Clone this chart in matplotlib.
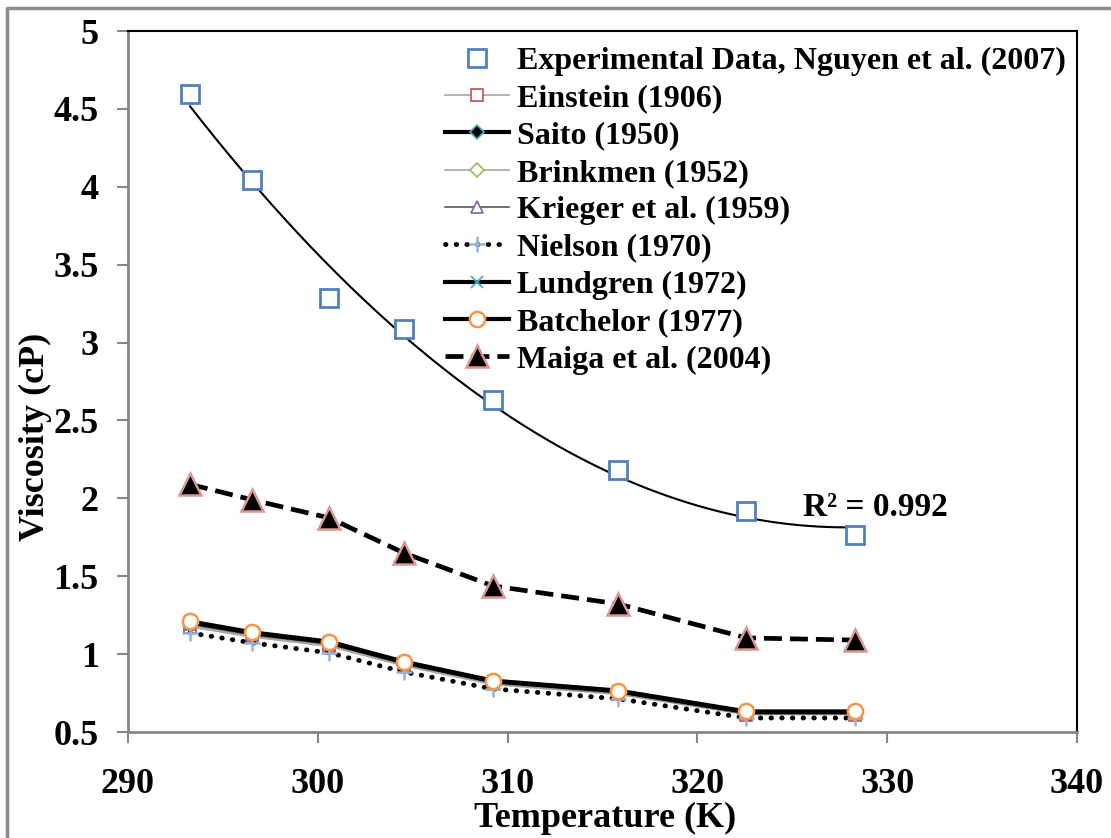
import numpy as np
import matplotlib
matplotlib.use("Agg")
import matplotlib.pyplot as plt
from matplotlib.lines import Line2D

plt.rcParams["font.family"] = ["Liberation Serif", "DejaVu Serif"]
plt.rcParams["font.weight"] = "bold"

# ---- data ------------------------------------------------------------------
temp = [293.27, 296.55, 300.61, 304.52, 309.22, 315.82, 322.58, 328.28]
nguyen = [4.596, 4.044, 3.286, 3.087, 2.632, 2.182, 1.919, 1.765]
einstein = [1.175, 1.11, 1.05, 0.925, 0.805, 0.742, 0.612, 0.612]
saito = [1.20, 1.13, 1.07, 0.945, 0.822, 0.758, 0.625, 0.625]
brinkmen = [1.185, 1.118, 1.058, 0.932, 0.812, 0.748, 0.617, 0.617]
krieger = [1.192, 1.124, 1.064, 0.938, 0.817, 0.753, 0.621, 0.621]
nielson = [1.136, 1.072, 1.008, 0.886, 0.777, 0.713, 0.59, 0.59]
lundgren = [1.205, 1.135, 1.075, 0.948, 0.826, 0.762, 0.628, 0.628]
batchelor = [1.21, 1.14, 1.08, 0.952, 0.83, 0.766, 0.632, 0.632]
maiga = [2.09, 1.99, 1.874, 1.65, 1.438, 1.322, 1.104, 1.09]
r2_label = "R² = 0.992"

fig = plt.figure(figsize=(11.11, 8.38), dpi=100)
ax = fig.add_axes([128 / 1111, 1 - 732 / 838, 949 / 1111, 701 / 838])

ax.plot(temp, nguyen, ls="none", marker="s", ms=13, mfc="white", mec="#4F81BD",
        mew=2, label="Experimental Data, Nguyen et al. (2007)", zorder=5)
ax.plot(temp, einstein, color="#A6A6A6", lw=1.2, marker="s", ms=8, mfc="white",
        mec="#C0504D", mew=1.2, label="Einstein (1906)")
ax.plot(temp, saito, color="black", lw=3, marker="D", ms=7, mfc="black",
        mec="#4BACC6", mew=1.2, label="Saito (1950)")
ax.plot(temp, brinkmen, color="#A6A6A6", lw=1.2, marker="D", ms=7, mfc="white",
        mec="#9BBB59", mew=1.2, label="Brinkmen (1952)")
ax.plot(temp, krieger, color="#595959", lw=1.2, marker="^", ms=9, mfc="white",
        mec="#8064A2", mew=1.2, label="Krieger et al. (1959)")
ax.plot(temp, nielson, color="black", lw=3.5, ls=(0, (0.1, 2.1)), dash_capstyle="round",
        marker="+", ms=11, mec="#95B3D7", mew=1.8, label="Nielson (1970)")
ax.plot(temp, lundgren, color="black", lw=3, marker="x", ms=8, mec="#4BACC6",
        mew=1.3, label="Lundgren (1972)")
ax.plot(temp, batchelor, color="black", lw=3, marker="o", ms=11, mfc="white",
        mec="#F79646", mew=1.8, label="Batchelor (1977)")
ax.plot(temp, maiga, color="black", lw=3.4, ls=(0, (3.8, 1.7)), marker="^", ms=16,
        mfc="black", mec="#D99694", mew=1.8, label="Maiga et al. (2004)", zorder=4)

# second-order polynomial trend line of the experimental data
coef = np.polyfit(temp, nguyen, 2)
tt = np.linspace(temp[0], temp[-1], 200)
ax.plot(tt, np.polyval(coef, tt), color="black", lw=1.5, zorder=3)
ax.text(329.4, 1.94, r2_label, fontsize=24, fontweight="bold", ha="center", va="center")

ax.set_xlim(290, 340)
ax.set_ylim(0.5, 5)
ax.set_xticks(range(290, 341, 10))
ax.set_yticks(np.arange(0.5, 5.01, 0.5))
ax.set_yticklabels(["0.5", "1", "1.5", "2", "2.5", "3", "3.5", "4", "4.5", "5"])

for s in ["top", "right"]:
    ax.spines[s].set_color("black")
    ax.spines[s].set_linewidth(1.5)
for s in ["left", "bottom"]:
    ax.spines[s].set_color("#868686")
    ax.spines[s].set_linewidth(2)
ax.tick_params(axis="both", direction="out", length=8, width=1.5, color="#868686",
               labelsize=26)
ax.tick_params(axis="y", pad=13)
ax.tick_params(axis="x", pad=18)

ax.set_xlabel("Temperature (K)", fontsize=26, fontweight="bold", va="center")
ax.xaxis.set_label_coords(0.503, -0.123)
ax.set_ylabel("Viscosity (cP)", fontsize=26, fontweight="bold", va="center")
ax.yaxis.set_label_coords(-0.097, 0.421)

handles, labels = ax.get_legend_handles_labels()
ax.legend(handles, labels, loc="upper left", bbox_to_anchor=(0.334, 0.978),
          frameon=False, fontsize=23, borderaxespad=0, borderpad=0,
          handlelength=2.0, handletextpad=0.25, labelspacing=0.25, numpoints=1)

# outer chart border (cropped on the right and bottom in the reference)
fig.add_artist(Line2D([7 / 1111, 7 / 1111, 1], [0, 1 - 8 / 838, 1 - 8 / 838],
                      transform=fig.transFigure, color="#8C8C8C", lw=2.5))

fig.savefig("out.png", dpi=100)
